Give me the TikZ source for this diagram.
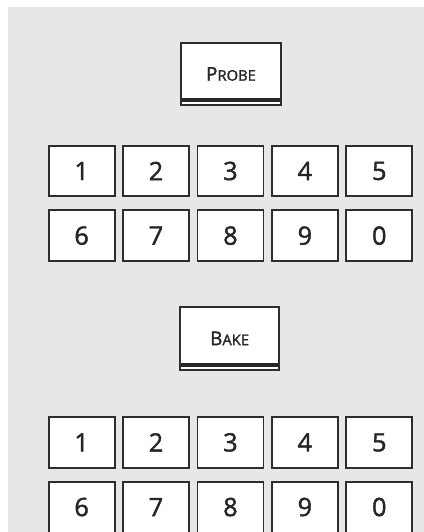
\documentclass[tikz,border=0pt]{standalone}
\usepackage{fontspec}
\setmainfont{Open Sans}
\newfontfamily\keyfont[FakeBold=1.6]{Open Sans}
\usepackage{xcolor}
\definecolor{panelgray}{RGB}{231,231,233}
\definecolor{keyline}{RGB}{45,45,45}
\usepackage{tikz}
\usetikzlibrary{
  positioning,
  calc
}
\tikzset{
  keybox/.style={draw=keyline, line width=1.3pt, fill=white,
    minimum width=1.65cm, minimum height=1.27cm,
    inner sep=0pt, font=\keyfont\fontsize{18}{20}\selectfont, text=black!85},
  modebox/.style={draw=keyline, line width=1.3pt, fill=white,
    minimum width=2.48cm, minimum height=1.57cm,
    inner sep=0pt, text=black!85},
  modebar/.style={line width=2.6pt, draw=black!85},
}
\newcommand{\capsword}[2]{{\keyfont{\fontsize{13.5}{14}\selectfont #1}{\fontsize{10.5}{12}\selectfont #2}}}

\begin{document}
\begin{tikzpicture}
  \useasboundingbox (0,0) rectangle (10.6,-13.3);
  \clip (0,0) rectangle (10.6,-13.3);
  \fill[panelgray] (0.2,-0.175) rectangle (10.6,-13.3);

  % Probe button and its keypad
  \node[modebox] (probe) at (5.775,-1.85) {\capsword{P}{ROBE}};
  \draw[modebar] ($(probe.south west)+(0.05,0.15)$) -- ($(probe.south east)+(-0.05,0.15)$);

  \node[keybox] (p1) at (2.04,-4.275) {1};
  \node[keybox, right=0.165cm of p1] (p2) {2};
  \node[keybox, right=0.165cm of p2] (p3) {3};
  \node[keybox, right=0.165cm of p3] (p4) {4};
  \node[keybox, right=0.165cm of p4] (p5) {5};
  \node[keybox, below=0.3cm of p1] (p6) {6};
  \node[keybox, right=0.165cm of p6] (p7) {7};
  \node[keybox, right=0.165cm of p7] (p8) {8};
  \node[keybox, right=0.165cm of p8] (p9) {9};
  \node[keybox, right=0.165cm of p9] (p0) {0};

  % Bake button and its keypad
  \node[modebox] (bake) at (5.74,-8.46) {\capsword{B}{AKE}};
  \draw[modebar] ($(bake.south west)+(0.05,0.15)$) -- ($(bake.south east)+(-0.05,0.15)$);

  \node[keybox] (b1) at (2.04,-11.06) {1};
  \node[keybox, right=0.165cm of b1] (b2) {2};
  \node[keybox, right=0.165cm of b2] (b3) {3};
  \node[keybox, right=0.165cm of b3] (b4) {4};
  \node[keybox, right=0.165cm of b4] (b5) {5};
  \node[keybox, below=0.3cm of b1] (b6) {6};
  \node[keybox, right=0.165cm of b6] (b7) {7};
  \node[keybox, right=0.165cm of b7] (b8) {8};
  \node[keybox, right=0.165cm of b8] (b9) {9};
  \node[keybox, right=0.165cm of b9] (b0) {0};
\end{tikzpicture}
\end{document}
